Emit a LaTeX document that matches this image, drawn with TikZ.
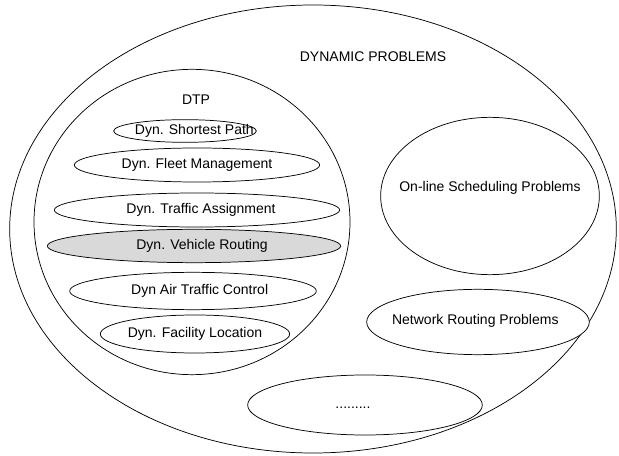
\documentclass[tikz,border=0pt]{standalone}
\usepackage{fontspec}
\setmainfont{Liberation Sans}
\usepackage{tikz}
\usetikzlibrary{shapes.geometric}
\tikzset{
  % Base styles
  diagram base/.style={
    x=0.75pt, y=-0.75pt,
    every node/.style={font=\fontsize{10.5}{12}\selectfont},
  },
  % Set ellipses
  outer set/.style={ellipse, draw, line width=0.55pt, inner sep=0pt},
  problem set/.style={ellipse, draw, line width=0.55pt, inner sep=0pt, fill=white},
  focus set/.style={problem set, fill=gray!30},
  % Set names
  set label/.style={inner sep=0pt},
}

\begin{document}
\begin{tikzpicture}[diagram base]
  \useasboundingbox (0,0) rectangle (619,456);
  \node[outer set, minimum width=455pt, minimum height=336pt,
    label={[set label, xshift=45pt, yshift=-43pt]north:DYNAMIC PROBLEMS}] (DP) at (313,229) {};
  \node[outer set, minimum width=237pt, minimum height=229pt,
    label={[set label, xshift=3pt, yshift=-27pt]north:DTP}] (DTP) at (192,222) {};
  \node[problem set, minimum width=107pt, minimum height=17pt,
    label={[set label, xshift=7pt]center:Dyn. Shortest Path}] (SP) at (185,131) {};
  \node[problem set, minimum width=184pt, minimum height=25.5pt,
    label={[set label]center:Dyn. Fleet Management}] (FM) at (197,165) {};
  \node[problem set, minimum width=214pt, minimum height=25.5pt,
    label={[set label, xshift=3pt]center:Dyn. Traffic Assignment}] (TA) at (197,210) {};
  \node[focus set, minimum width=220pt, minimum height=25pt,
    label={[set label, xshift=6pt]center:Dyn. Vehicle Routing}] (VR) at (194,246) {};
  \node[problem set, minimum width=185pt, minimum height=28pt,
    label={[set label, xshift=5pt]center:Dyn Air Traffic Control}] (ATC) at (193,291) {};
  \node[problem set, minimum width=142pt, minimum height=28.5pt,
    label={[set label]center:Dyn. Facility Location}] (FL) at (195,334) {};
  \node[problem set, minimum width=164pt, minimum height=118pt,
    label={[set label, yshift=6pt]center:On-line Scheduling Problems}] (OS) at (490,196) {};
  \node[problem set, minimum width=167pt, minimum height=49pt,
    label={[set label, xshift=-2pt, yshift=1pt]center:Network Routing Problems}] (NR) at (478,322) {};
  \node[problem set, minimum width=176pt, minimum height=45pt,
    label={[set label, xshift=-9pt, yshift=-2pt]center:.........}] (OT) at (365,405) {};
\end{tikzpicture}
\end{document}
